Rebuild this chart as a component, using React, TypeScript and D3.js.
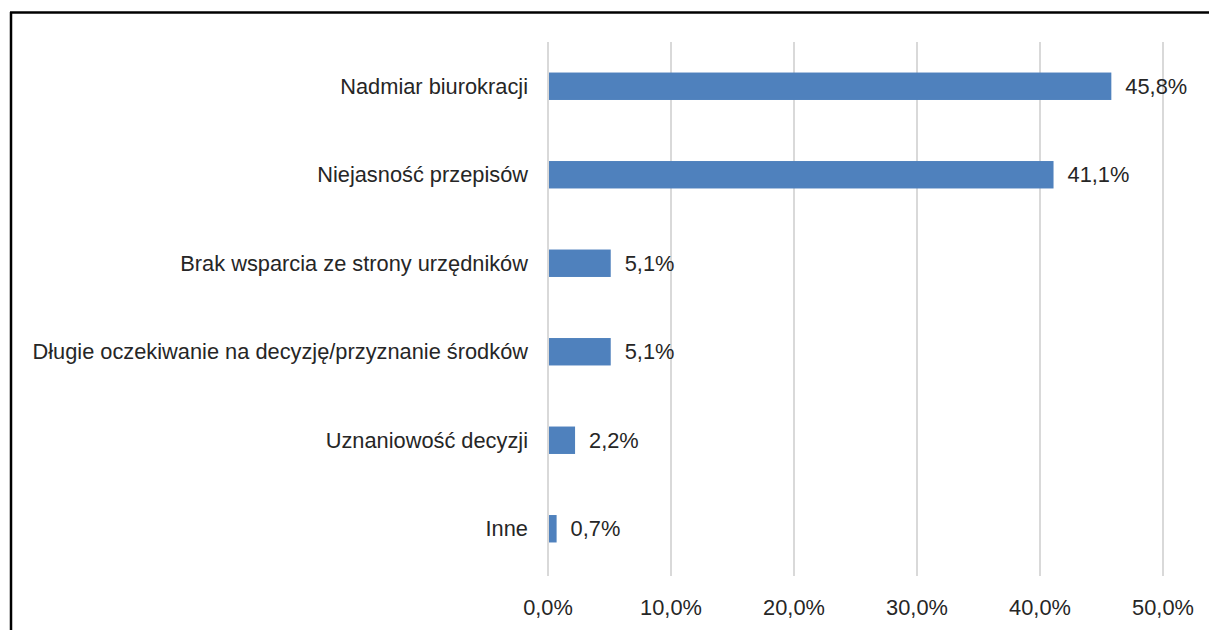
import { useEffect } from 'react'
import * as d3 from 'd3'

const categories = [
  'Nadmiar biurokracji',
  'Niejasność przepisów',
  'Brak wsparcia ze strony urzędników',
  'Długie oczekiwanie na decyzję/przyznanie środków',
  'Uznaniowość decyzji',
  'Inne',
]
const values = [45.8, 41.1, 5.1, 5.1, 2.2, 0.7]
const ticks = [0, 10, 20, 30, 40, 50]

const W = 1209
const H = 630
const BAR = '#4F81BD'
const GRID = '#D9D9D9'
const TEXT = '#262626'
const FONT = '"Liberation Sans", Arial, sans-serif'
const FS = 21.8

const fmt = (v: number) => v.toFixed(1).replace('.', ',') + '%'

export default function App() {
  useEffect(() => {
    document.body.style.margin = '0'
  }, [])

  const x = d3.scaleLinear().domain([0, 50]).range([548, 1163])
  const y = d3.scaleBand().domain(categories).range([42, 573]).paddingInner(0.69).paddingOuter(0.345)

  return (
    <svg width={W} height={H} style={{ display: 'block', background: '#fff' }}>
      {/* frame */}
      <line x1={11} x2={11} y1={12} y2={H} stroke="#000" strokeWidth={2.5} />
      <line x1={10} x2={W} y1={12.5} y2={12.5} stroke="#000" strokeWidth={2.5} />

      {ticks.map((t) => (
        <g key={t}>
          <line x1={x(t)} x2={x(t)} y1={42} y2={576} stroke={GRID} strokeWidth={2} />
          <text x={x(t)} y={607} dy="0.35em" textAnchor="middle" fontFamily={FONT} fontSize={FS} fill={TEXT}>
            {fmt(t)}
          </text>
        </g>
      ))}

      {categories.map((c, i) => {
        const yy = y(c) ?? 0
        const cy = yy + y.bandwidth() / 2
        return (
          <g key={c}>
            <rect x={x(0) + 1} y={yy} width={x(values[i]) - x(0) - 1} height={y.bandwidth()} fill={BAR} />
            <text x={528} y={cy} dy="0.35em" textAnchor="end" fontFamily={FONT} fontSize={FS} fill={TEXT}>
              {c}
            </text>
            <text x={x(values[i]) + 14} y={cy} dy="0.35em" fontFamily={FONT} fontSize={FS} fill={TEXT}>
              {fmt(values[i])}
            </text>
          </g>
        )
      })}
    </svg>
  )
}
